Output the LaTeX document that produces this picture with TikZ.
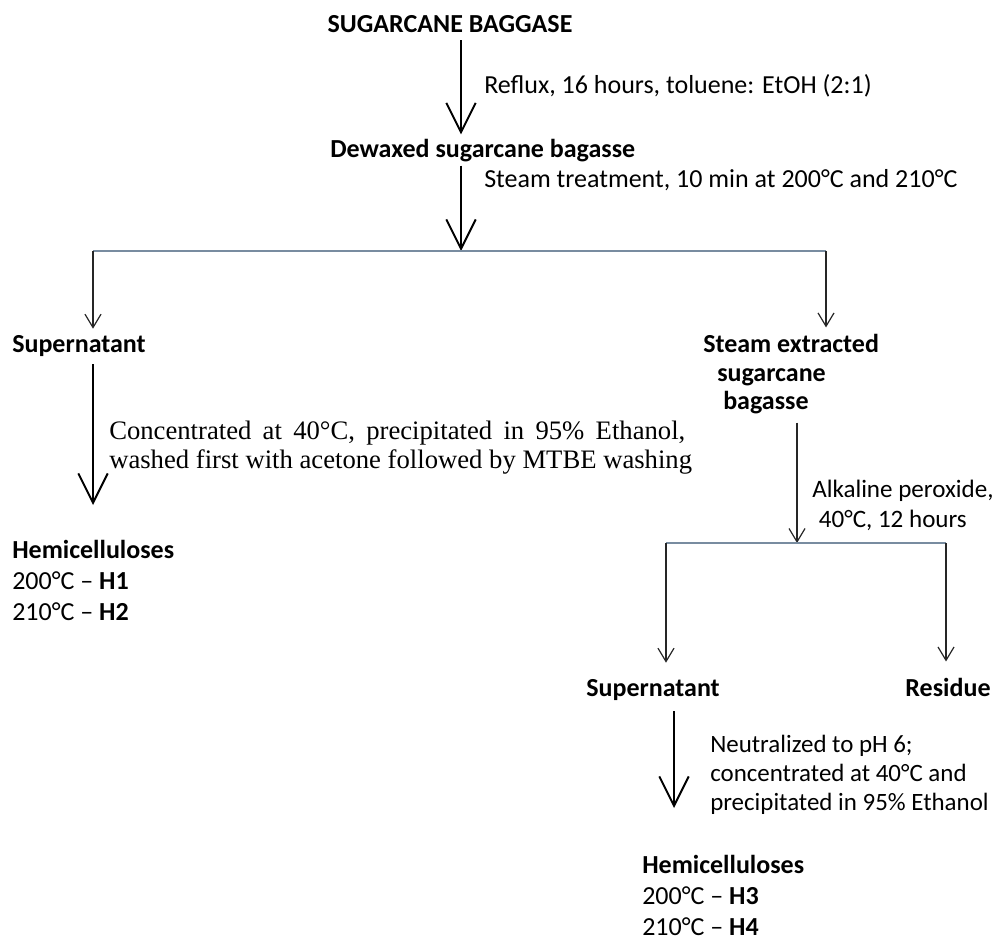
\documentclass[tikz,border=0pt]{standalone}
\usepackage{fontspec}
\setmainfont{Carlito}
\newfontfamily\timesfont{Liberation Serif}
\usepackage{xcolor}
\usepackage{tikz}
\usetikzlibrary{arrows.meta, positioning}
\definecolor{branchcolor}{RGB}{120,140,160}

\begin{document}
\begin{tikzpicture}[
    x=0.75pt, y=-0.75pt,
    label/.style={inner sep=0pt, font=\fontsize{19.5}{22.5}\selectfont},
    title/.style={label, font=\fontsize{19.5}{22.5}\selectfont\bfseries},
    note/.style={label, anchor=base west, align=left},
    bigarrow/.style={-{Straight Barb[length=22pt, width=22pt, line width=1.5pt]}, line width=1.5pt, black},
    smallarrow/.style={-{Straight Barb[length=10pt, width=12pt]}, line width=0.9pt, black!85},
    branch/.style={line width=1.3pt, branchcolor}
]
    \useasboundingbox (0,0) rectangle (993,941);

    % Starting material
    \node[title, anchor=base] (bagasse) at (450,33) {SUGARCANE BAGGASE};
    \node[title, anchor=base west] (dewaxed) at (330,158) {Dewaxed sugarcane bagasse};

    % Branch points
    \coordinate (split1) at (461,251);
    \coordinate (splitL) at (93,251);
    \coordinate (splitR) at (826,251);
    \coordinate (split2) at (797,543);
    \coordinate (split2L) at (666,543);
    \coordinate (split2R) at (946,543);

    % First level products (base = last line)
    \node[title, anchor=base west] (supL) at (12,353) {Supernatant};
    \node[title, anchor=base west, align=left, font=\fontsize{19.5}{21.4}\selectfont\bfseries] (steamed) at (703,410) {Steam extracted\\\hspace{10.5pt}sugarcane\\\hspace{15pt}bagasse};
    \node[note, font=\fontsize{19.5}{23}\selectfont] (hemiL) at (12,620) {\textbf{Hemicelluloses}\\200°C – \textbf{H1}\\210°C – \textbf{H2}};

    % Second level products
    \node[title, anchor=base] (supR) at (653,696) {Supernatant};
    \node[title, anchor=base] (residue) at (948,696) {Residue};
    \node[note, font=\fontsize{19.5}{23}\selectfont] (hemiR) at (642,935) {\textbf{Hemicelluloses}\\200°C – \textbf{H3}\\210°C – \textbf{H4}};

    % Conditions
    \node[note] (reflux) at (484,94) {Reflux, 16 hours, toluene: EtOH (2:1)};
    \node[note] (steam) at (484,188) {Steam treatment, 10 min at 200°C and 210°C};
    \node[note, font=\fontsize{20}{21.75}\selectfont\timesfont] (conc) at (109,468) {\makebox[432pt][s]{Concentrated at 40°C, precipitated in 95\% Ethanol,}\\washed first with acetone followed by MTBE washing};
    \node[note, font=\fontsize{18.8}{22.5}\selectfont] (alkaline) at (812,527) {Alkaline peroxide,\\\hspace{5pt}40°C, 12 hours};
    \node[note, font=\fontsize{18.7}{21.75}\selectfont] (neutral) at (710,810) {Neutralized to pH 6;\\concentrated at 40°C and\\precipitated in 95\% Ethanol};

    % Arrow ends
    \coordinate (endL) at (93,505);
    \coordinate (endR) at (674,808);

    % Arrows
    \draw[bigarrow] ([yshift=-5.25pt]bagasse.south -| split1) -- ([yshift=3.75pt]dewaxed.north -| split1);
    \draw[bigarrow] ([yshift=-2.25pt]dewaxed.south -| split1) -- (split1);
    \draw[branch] (splitL) -- (splitR);
    \draw[smallarrow] (splitL) -- ([yshift=5.25pt]supL.north -| splitL);
    \draw[smallarrow] (splitR) -- ([yshift=5.25pt]steamed.north -| splitR);
    \draw[bigarrow] ([yshift=-5.25pt]supL.south -| splitL) -- (endL);
    \draw[smallarrow] ([yshift=-6pt]steamed.south -| split2) -- (split2);
    \draw[branch] (split2L) -- (split2R);
    \draw[smallarrow] (split2L) -- ([yshift=12pt]supR.north -| split2L);
    \draw[smallarrow] (split2R) -- ([yshift=12pt]residue.north -| split2R);
    \draw[bigarrow] ([yshift=-8.25pt]supR.south -| endR) -- (endR);
\end{tikzpicture}
\end{document}
